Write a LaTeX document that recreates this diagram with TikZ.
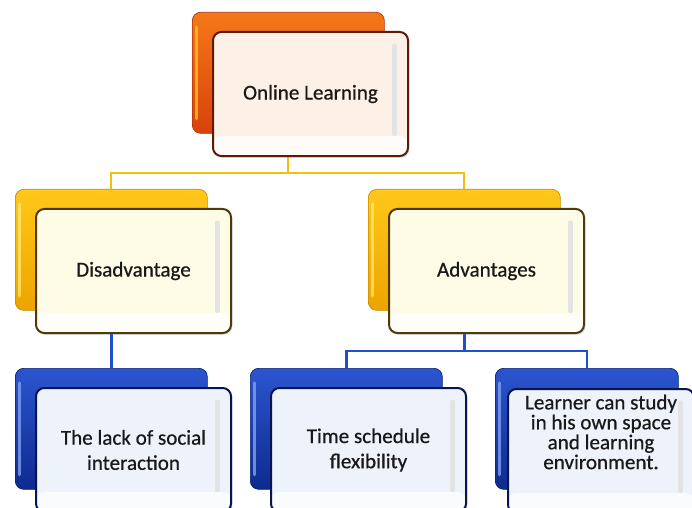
\documentclass[tikz,border=0pt]{standalone}
\usepackage{fontspec}
\setmainfont[FakeBold=0.6]{Carlito}
\usetikzlibrary{calc,shadows,backgrounds}

% back box shades, front box tint and border, per theme
\definecolor{orangetop}{HTML}{F5781A}
\definecolor{orangebot}{HTML}{D8420A}
\definecolor{orangeedge}{HTML}{B03208}
\definecolor{orangehi}{HTML}{FFC21A}
\definecolor{orangefill}{HTML}{FDF1E7}
\definecolor{orangeline}{HTML}{5E1A08}
\definecolor{goldtop}{HTML}{FFC81A}
\definecolor{goldbot}{HTML}{EEA400}
\definecolor{goldedge}{HTML}{C98A00}
\definecolor{goldhi}{HTML}{FFE766}
\definecolor{goldfill}{HTML}{FEFBE6}
\definecolor{goldline}{HTML}{4F3A0C}
\definecolor{bluetop}{HTML}{2B55D0}
\definecolor{bluebot}{HTML}{0E2A8E}
\definecolor{blueedge}{HTML}{0A2270}
\definecolor{bluehi}{HTML}{7FA2F0}
\definecolor{bluefill}{HTML}{EEF2FA}
\definecolor{blueline}{HTML}{0A1550}
\definecolor{wiregold}{HTML}{F4C010}
\definecolor{wireblue}{HTML}{1F4FCC}

\tikzset{
  backbox/.style={draw=#1edge, line width=0.02cm, top color=#1top, bottom color=#1bot,
    rounded corners=0.25cm, inner sep=0pt, anchor=north west},
  frontbox/.style={draw=#1line, line width=0.06cm, fill=#1fill, rounded corners=0.25cm,
    inner sep=0pt, anchor=north west,
    drop shadow={shadow xshift=0.04cm, shadow yshift=-0.05cm, opacity=0.35},
    path picture={\fill[white, opacity=0.75] (path picture bounding box.south west)
      rectangle ($ (path picture bounding box.south east) + (0,0.6cm) $);}},
  bevel/.style={line width=0.15cm, gray!22, line cap=round},
  gleam/.style={line width=0.1cm, #1hi, opacity=0.8, line cap=round},
  goldwire/.style={draw=wiregold, line width=0.06cm},
  bluewire/.style={draw=wireblue, line width=0.08cm}
}

\pgfkeys{
  /card/.cd,
  name/.initial=c,
  position/.initial={0,0},
  theme/.initial=gold,
  shift/.initial={20,19},
  width/.initial=5.76cm,
  front width/.initial=5.85cm,
  value/.initial={},
  value font/.initial={\fontsize{18}{21.5}\selectfont},
  value shift/.initial=0cm
}
\newcommand{\card}[1][]{
    {
        \pgfkeys{/card/.cd,#1}
        \pgfkeys{/card/name/.get=\cardname}
        \pgfkeys{/card/position/.get=\cardposition}
        \pgfkeys{/card/theme/.get=\cardtheme}
        \pgfkeys{/card/shift/.get=\cardshift}
        \pgfkeys{/card/width/.get=\cardwidth}
        \pgfkeys{/card/front width/.get=\cardfrontwidth}
        \pgfkeys{/card/value/.get=\cardvalue}
        \pgfkeys{/card/value font/.get=\cardvaluefont}
        \pgfkeys{/card/value shift/.get=\cardvalueshift}
        \node[backbox=\cardtheme, minimum width=\cardwidth, minimum height=3.63cm] (\cardname-back) at (\cardposition) {};
        \draw[gleam=\cardtheme] ($ (\cardname-back.north west) + (0.14cm,-0.45cm) $) -- ($ (\cardname-back.south west) + (0.14cm,0.45cm) $);
        \node[frontbox=\cardtheme, minimum width=\cardfrontwidth, minimum height=3.72cm] (\cardname) at ($ (\cardposition) + (\cardshift) $) {};
        \draw[bevel] ($ (\cardname.north east) + (-0.44cm,-0.45cm) $) -- ($ (\cardname.south east) + (-0.44cm,0.7cm) $);
        \node[align=center, font=\cardvaluefont, text=black!90, yshift=\cardvalueshift] (\cardname-text) at (\cardname.center) {\cardvalue};
    }
}

\begin{document}
\begin{tikzpicture}[x=0.03cm,y=-0.03cm]
    \useasboundingbox (0,0) rectangle (692,508);
    \clip (0,0) rectangle (692,508);

    \card[name=online,position={192,12},theme=orange,value=Online Learning]
    \card[name=dis,position={15,189},theme=gold,value=Disadvantage]
    \card[name=adv,position={368,189},theme=gold,value=Advantages]
    \card[name=lack,position={15,368},theme=blue,value={The lack of social\\interaction}]
    \card[name=time,position={250,368},theme=blue,value={Time schedule\\flexibility}]
    \card[name=learner,position={495,368},theme=blue,shift={12,20},width=5.49cm,front width=5.58cm,
          value font={\fontsize{18}{17}\selectfont},value shift=0.57cm,
          value={Learner can study\\in his own space\\and learning\\environment.}]

    % tree wires run behind the cards
    \begin{scope}[on background layer]
        \coordinate (j1) at ($ (online.south)!0.5!(dis-back.north) $);
        \coordinate (j2) at ($ (adv.south)!0.5!(time-back.north) $);
        \draw[goldwire] (online-back.south) -- (online-back.south |- j1) -| (dis-back.north);
        \draw[goldwire] (online-back.south |- j1) -| (adv-back.north);
        \draw[bluewire] (dis-back.south) -- (lack-back.north);
        \draw[bluewire] (adv-back.south) -- (adv-back.south |- j2) -| (time-back.north);
        \draw[bluewire] (adv-back.south |- j2) -| (learner-back.north);
    \end{scope}
\end{tikzpicture}
\end{document}
